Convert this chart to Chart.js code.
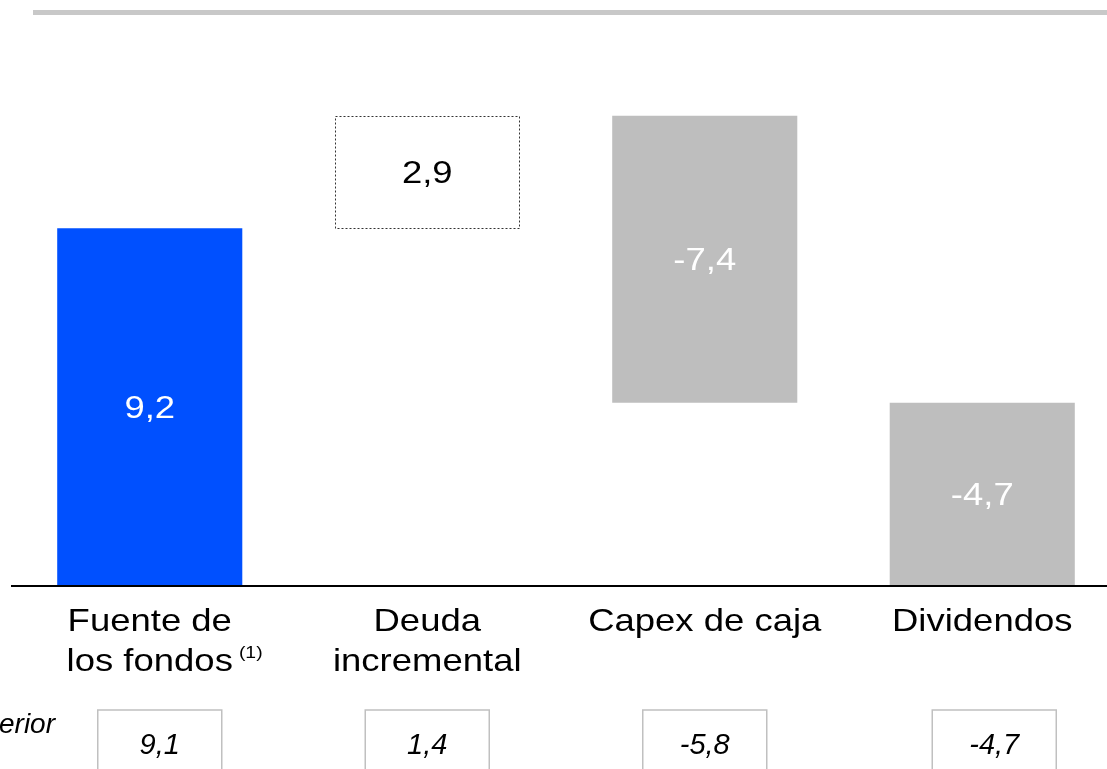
<!DOCTYPE html>
<html>
<head>
<meta charset="utf-8">
<script src="https://cdn.jsdelivr.net/npm/chart.js@4.4.0/dist/chart.umd.min.js"></script>
<style>
  html, body { margin: 0; padding: 0; background: #fff; overflow: hidden; }
  #wrap { position: absolute; left: 0; top: 0; width: 1130px; height: 769px; }
</style>
</head>
<body>
<div id="wrap"><canvas id="wfChart" width="1130" height="769"></canvas></div>
<script>
// categories (each entry = lines of the label)
const categories = [["Fuente de", "los fondos"], ["Deuda", "incremental"], ["Capex de caja"], ["Dividendos"]];
// change of each step
const values = [9.2, 2.9, -7.4, -4.7];
// previous period figures shown in the boxes below
const anterior = [9.1, 1.4, -5.8, -4.7];
const anteriorLabel = "Año anterior";

const barColors = ['#0050FF', '#FFFFFF', '#BEBEBE', '#BEBEBE'];
const valueColors = ['#FFFFFF', '#000000', '#FFFFFF', '#FFFFFF'];
// small shift of each bottom box relative to its bar centre
const boxShift = [10, 0, 0, 12];

// build floating ranges for the waterfall
let running = 0;
const ranges = values.map(v => {
    const start = running;
    running = Math.round((running + v) * 10) / 10;
    return [start, running];
});

const fmt = v => v.toFixed(1).replace('.', ',');
const FONT = '"Liberation Sans", Arial, sans-serif';
const SX = 1.14; // text in the original is slightly stretched

function drawText(ctx, s, x, y, size, color, opts) {
    opts = opts || {};
    ctx.save();
    ctx.font = (opts.italic ? 'italic ' : '') + size + 'px ' + FONT;
    ctx.fillStyle = color;
    ctx.textAlign = opts.align || 'center';
    ctx.textBaseline = opts.baseline || 'alphabetic';
    ctx.translate(x, y);
    ctx.scale(opts.sx || 1, 1);
    ctx.fillText(s, 0, 0);
    const w = ctx.measureText(s).width * (opts.sx || 1);
    ctx.restore();
    return w;
}

const decorations = {
    id: 'decorations',
    afterDatasetsDraw(chart) {
        const ctx = chart.ctx;
        const xs = chart.scales.x;
        const area = chart.chartArea;
        const meta = chart.getDatasetMeta(0);

        // top rule
        ctx.fillStyle = '#C8C8C8';
        ctx.fillRect(33, 10, chart.width - 33, 5);

        // dotted outline of the incremental debt bar
        const b = meta.data[1];
        ctx.save();
        ctx.strokeStyle = '#333333';
        ctx.lineWidth = 1;
        ctx.setLineDash([2, 2]);
        ctx.strokeRect(Math.round(b.x - b.width / 2) + 0.5, Math.round(b.y) + 0.5,
                       Math.round(b.width) - 1, Math.round(b.base - b.y));
        ctx.restore();

        // baseline
        ctx.fillStyle = '#000000';
        ctx.fillRect(area.left, area.bottom, chart.width - area.left, 2);

        // value labels inside the bars
        meta.data.forEach((bar, i) => {
            const yc = (bar.y + bar.base) / 2;
            drawText(ctx, fmt(values[i]), bar.x, yc + 11, 32, valueColors[i], { sx: SX });
        });

        // category labels
        categories.forEach((lines, i) => {
            const x = xs.getPixelForValue(i);
            lines.forEach((ln, j) => {
                const w = drawText(ctx, ln, x, 631 + j * 40, 32, '#000000', { sx: SX });
                if (i === 0 && j === 1) {
                    drawText(ctx, '(1)', x + w / 2 + 6, 658, 17, '#000000', { align: 'left', sx: SX });
                }
            });
        });

        // previous period row
        drawText(ctx, anteriorLabel, 55, 733, 28, '#000000', { align: 'right', italic: true });
        anterior.forEach((v, i) => {
            const x = xs.getPixelForValue(i) + boxShift[i];
            ctx.save();
            ctx.strokeStyle = '#C0C0C0';
            ctx.lineWidth = 1.5;
            ctx.strokeRect(x - 62, 710, 124, 80);
            ctx.restore();
            drawText(ctx, fmt(v), x, 754, 29, '#000000', { italic: true });
        });
    }
};

const ctx = document.getElementById('wfChart').getContext('2d');
const chart = new Chart(ctx, {
    type: 'bar',
    data: {
        labels: categories.map(c => c.join(' ')),
        datasets: [{
            data: ranges,
            backgroundColor: barColors,
            borderWidth: 0,
            borderSkipped: false,
            barPercentage: 0.667,
            categoryPercentage: 1
        }]
    },
    options: {
        responsive: false,
        animation: false,
        layout: { padding: { left: 11, right: 9, top: 42, bottom: 184 } },
        plugins: { legend: { display: false }, tooltip: { enabled: false } },
        scales: {
            x: { display: false },
            y: { display: false, min: 0, max: 14 }
        }
    },
    plugins: [decorations]
});
</script>
</body>
</html>
